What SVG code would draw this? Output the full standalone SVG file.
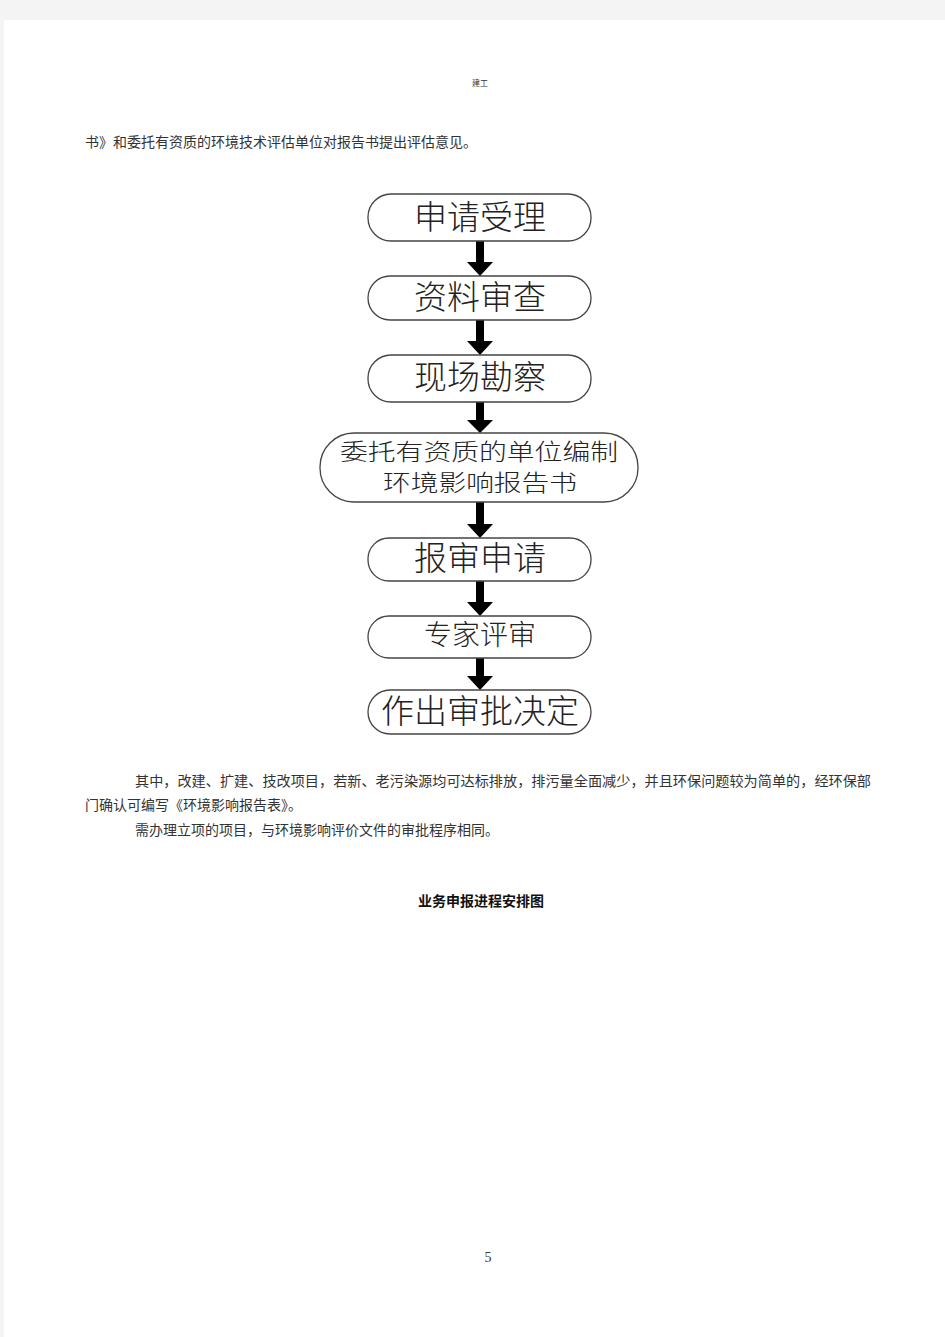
<svg xmlns="http://www.w3.org/2000/svg" width="945" height="1337" viewBox="0 0 945 1337">
<style>
.body{font-family:"Noto Sans CJK SC","Liberation Sans",sans-serif;font-size:14px;fill:#333}
.node rect{fill:#fff;stroke:#444;stroke-width:1.3}
.node text{font-family:"Noto Sans CJK SC",sans-serif;font-weight:300;fill:#222;text-anchor:middle}
.big{font-size:33px}
.mid{font-size:28px}
.two{font-size:23px}
.arrow{fill:#000}
</style>
<rect x="0" y="0" width="945" height="1337" fill="#f4f4f4"/>
<rect x="4" y="20" width="941" height="1317" fill="#fff"/>
<text x="480" y="86" class="body" style="font-size:8px" text-anchor="middle">建工</text>
<text x="85" y="147" class="body">书》和委托有资质的环境技术评估单位对报告书提出评估意见。</text>

<g id="connectors">
<path class="arrow" d="M476,241 H484 V262 H493 L480,276 L467,262 H476 Z"/>
<path class="arrow" d="M476,320 H484 V341 H493 L480,355 L467,341 H476 Z"/>
<path class="arrow" d="M476,402 H484 V420 H493 L480,433 L467,420 H476 Z"/>
<path class="arrow" d="M476,502 H484 V524 H493 L480,538 L467,524 H476 Z"/>
<path class="arrow" d="M476,581 H484 V602 H493 L480,616 L467,602 H476 Z"/>
<path class="arrow" d="M476,658 H484 V676 H493 L480,690 L467,676 H476 Z"/>
</g>

<g id="n1" class="node"><rect x="368" y="194" width="223" height="47" rx="23"/><text x="480" y="229" class="big">申请受理</text></g>
<g id="n2" class="node"><rect x="368" y="276" width="223" height="44" rx="22"/><text x="480" y="309" class="big">资料审查</text></g>
<g id="n3" class="node"><rect x="368" y="355" width="223" height="47" rx="23"/><text x="480" y="389" class="big">现场勘察</text></g>
<g id="n4" class="node"><rect x="320" y="433" width="318" height="69" rx="34"/><text x="479" y="460" class="two" textLength="278" lengthAdjust="spacingAndGlyphs">委托有资质的单位编制</text><text x="480" y="491" class="two" textLength="194" lengthAdjust="spacingAndGlyphs">环境影响报告书</text></g>
<g id="n5" class="node"><rect x="368" y="538" width="223" height="43" rx="21"/><text x="480" y="570" class="big">报审申请</text></g>
<g id="n6" class="node"><rect x="368" y="616" width="223" height="42" rx="21"/><text x="480" y="645" class="mid">专家评审</text></g>
<g id="n7" class="node"><rect x="368" y="690" width="223" height="44" rx="22"/><text x="480" y="723" class="big">作出审批决定</text></g>

<text x="135" y="786" class="body" textLength="736" lengthAdjust="spacingAndGlyphs">其中，改建、扩建、技改项目，若新、老污染源均可达标排放，排污量全面减少，并且环保问题较为简单的，经环保部</text>
<text x="85" y="810" class="body">门确认可编写《环境影响报告表》。</text>
<text x="135" y="835" class="body">需办理立项的项目，与环境影响评价文件的审批程序相同。</text>
<text x="481" y="906" class="body" style="font-size:14px;font-weight:bold;fill:#111" text-anchor="middle">业务申报进程安排图</text>
<text x="488" y="1262" style="font-family:'Liberation Serif',serif;font-size:14px;fill:#333" text-anchor="middle">5</text>
</svg>
